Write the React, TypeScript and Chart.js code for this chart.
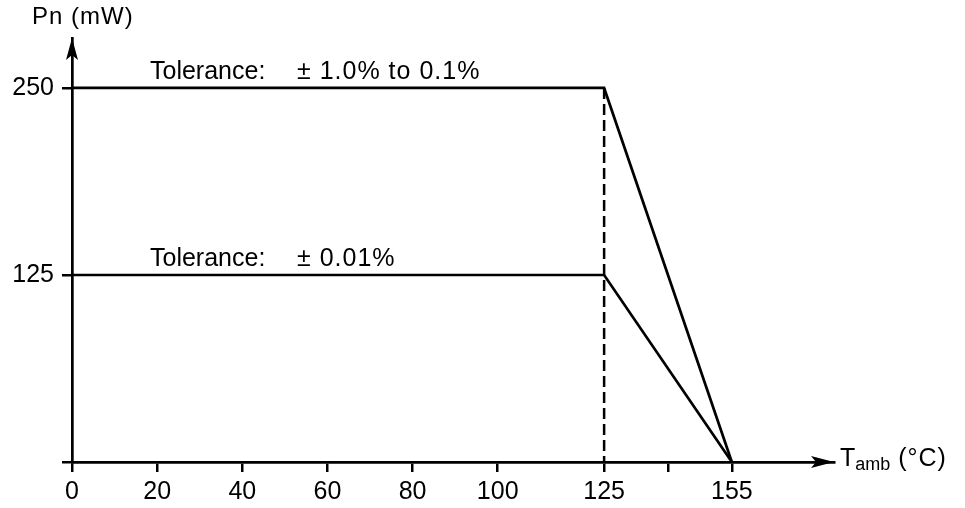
import React, { useEffect, useRef } from "react";
import { Chart, registerables } from "chart.js";

Chart.register(...registerables);

// ---- data ----
const tempPoints = [0, 125, 155];
const powerHigh = [250, 250, 0];
const powerLow = [125, 125, 0];
const kneeTemp = 125;
const kneePowerHigh = 250;
const xTicks = [0, 20, 40, 60, 80, 100, 125, 140, 155];
const xLabeled = [0, 20, 40, 60, 80, 100, 125, 155];
const yTicks = [0, 125, 250];
const yLabeled = [125, 250];
const xMax = 179;
const yMax = 283.4;
const labelHigh = ["Tolerance:", "± 1.0% to 0.1%"];
const labelLow = ["Tolerance:", "± 0.01%"];
const yTitle = "Pn (mW)";
const xTitle = ["T", "amb", " (°C)"];

const FONT = "'Liberation Sans', Arial, Helvetica, sans-serif";

function drawText(
  ctx: CanvasRenderingContext2D,
  text: string,
  x: number,
  y: number,
  size: number,
  spacing = 0
) {
  ctx.font = `${size}px ${FONT}`;
  (ctx as any).letterSpacing = `${spacing}px`;
  ctx.fillText(text, x, y);
  const w = ctx.measureText(text).width;
  (ctx as any).letterSpacing = "0px";
  return w;
}

const arrowPlugin = {
  id: "axisDecor",
  afterDraw(chart: any) {
    const ctx = chart.ctx as CanvasRenderingContext2D;
    const xs = chart.scales.x;
    const ys = chart.scales.y;
    const x0 = xs.getPixelForValue(0);
    const y0 = ys.getPixelForValue(0);
    const top = chart.chartArea.top;
    const right = chart.chartArea.right;
    ctx.save();
    ctx.fillStyle = "#000";
    // y arrow (up)
    ctx.beginPath();
    ctx.moveTo(x0, top);
    ctx.lineTo(x0 - 6, top + 22);
    ctx.lineTo(x0, top + 17);
    ctx.lineTo(x0 + 6, top + 22);
    ctx.closePath();
    ctx.fill();
    // x arrow (right)
    ctx.beginPath();
    ctx.moveTo(right, y0);
    ctx.lineTo(right - 23, y0 - 6);
    ctx.lineTo(right - 18, y0);
    ctx.lineTo(right - 23, y0 + 6);
    ctx.closePath();
    ctx.fill();

    ctx.textBaseline = "alphabetic";
    ctx.textAlign = "left";

    // y title
    drawText(ctx, yTitle, x0 - 40, top - 14, 24, 1);

    // x title with subscript
    let tx = right + 6;
    tx += drawText(ctx, xTitle[0], tx, y0 + 4, 25);
    tx += drawText(ctx, xTitle[1], tx, y0 + 8, 18);
    drawText(ctx, xTitle[2], tx, y0 + 4, 25, 1);

    // annotations
    const drawLabel = (parts: string[], yVal: number) => {
      const py = ys.getPixelForValue(yVal) - 9;
      const px = x0 + 78;
      drawText(ctx, parts[0], px, py, 25);
      drawText(ctx, parts[1], px + 147, py, 25, 1);
    };
    drawLabel(labelHigh, powerHigh[0]);
    drawLabel(labelLow, powerLow[0]);
    ctx.restore();
  },
};

export default function App() {
  const ref = useRef<HTMLCanvasElement | null>(null);
  useEffect(() => {
    if (!ref.current) return;
    const lineStyle = {
      borderColor: "#000",
      borderWidth: 2.7,
      pointRadius: 0,
      fill: false,
      tension: 0,
      clip: false as any,
      borderJoinStyle: "miter" as const,
    };
    const gridStyle = {
      drawOnChartArea: false,
      drawTicks: true,
      tickLength: 10,
      color: "#000",
      lineWidth: 2.5,
    };
    const chart = new Chart(ref.current, {
      type: "line",
      data: {
        datasets: [
          {
            ...lineStyle,
            label: "high",
            data: tempPoints.map((t, i) => ({ x: t, y: powerHigh[i] })),
          },
          {
            ...lineStyle,
            label: "low",
            data: tempPoints.map((t, i) => ({ x: t, y: powerLow[i] })),
          },
          {
            ...lineStyle,
            label: "knee",
            borderWidth: 2.5,
            borderDash: [11, 5],
            data: [
              { x: kneeTemp, y: kneePowerHigh },
              { x: kneeTemp, y: 0 },
            ],
          },
        ],
      },
      options: {
        animation: false,
        responsive: false,
        devicePixelRatio: 1,
        layout: { padding: { top: 38, right: 131, left: 0, bottom: 0 } },
        plugins: { legend: { display: false }, tooltip: { enabled: false } },
        scales: {
          x: {
            type: "linear",
            min: 0,
            max: xMax,
            afterBuildTicks: (s: any) => {
              s.ticks = xTicks.map((v) => ({ value: v }));
            },
            afterFit: (s: any) => {
              s.height = 46;
            },
            ticks: {
              autoSkip: false,
              maxRotation: 0,
              padding: 5,
              color: "#000",
              font: { family: FONT, size: 25 },
              callback: (v: any) => (xLabeled.includes(Number(v)) ? String(v) : ""),
            },
            grid: gridStyle,
            border: { display: true, color: "#000", width: 2.7 },
          },
          y: {
            type: "linear",
            min: 0,
            max: yMax,
            afterBuildTicks: (s: any) => {
              s.ticks = yTicks.map((v) => ({ value: v }));
            },
            afterFit: (s: any) => {
              s.width = 72;
            },
            ticks: {
              autoSkip: false,
              padding: 8,
              color: "#000",
              font: { family: FONT, size: 25 },
              callback: (v: any) => (yLabeled.includes(Number(v)) ? String(v) : ""),
            },
            grid: gridStyle,
            border: { display: true, color: "#000", width: 2.7 },
          },
        },
      },
      plugins: [arrowPlugin],
    });
    return () => chart.destroy();
  }, []);
  return (
    <div style={{ position: "fixed", left: 0, top: 0, width: 965, height: 508, background: "#fff" }}>
      <canvas ref={ref} width={965} height={508} style={{ display: "block" }} />
    </div>
  );
}
